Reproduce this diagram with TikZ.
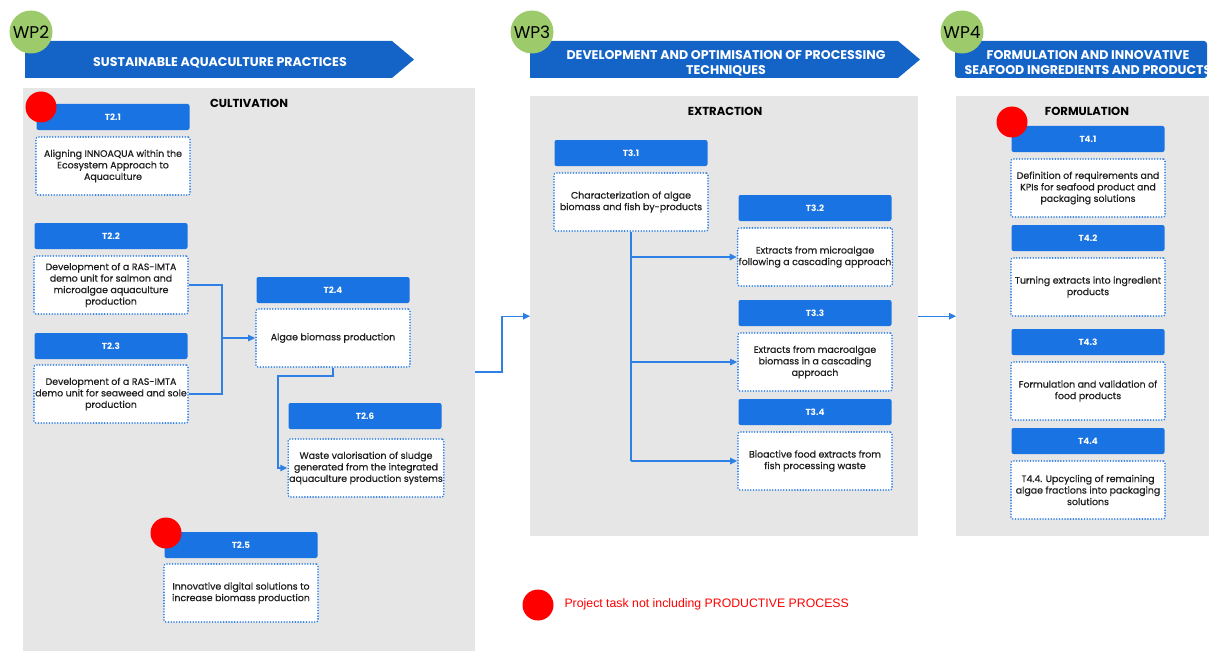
\documentclass[tikz,border=0pt]{standalone}
\usepackage{fontspec}
\setmainfont{Poppins}
\newfontfamily\bodyfont[FakeBold=0.6]{Poppins}
\newfontfamily\legendfont{Liberation Sans}
\usetikzlibrary{arrows.meta}
\definecolor{bannerblue}{HTML}{1464C8}
\definecolor{hdrblue}{HTML}{1A73E2}
\definecolor{dotblue}{HTML}{2A7CE6}
\definecolor{linkblue}{HTML}{2F80E4}
\definecolor{panelgray}{HTML}{E6E6E6}
\definecolor{wpgreen}{HTML}{9DCB6B}
\definecolor{flagred}{HTML}{FF0000}
\definecolor{bodytext}{HTML}{1E1E1E}
\begin{document}
\begin{tikzpicture}[x=1pt,y=-1pt,
  panel/.style={fill=panelgray,inner sep=0pt,anchor=north west},
  paneltitle/.style={font=\bfseries\fontsize{11.6}{13}\selectfont,text=black},
  banner/.style={fill=bannerblue},
  bannertext/.style={text=white,align=center,font=\bfseries\fontsize{12.6}{15}\selectfont},
  wp/.style={circle,fill=wpgreen,minimum size=43pt,inner sep=0pt,font=\fontsize{17}{17}\selectfont,text=black},
  hdr/.style={fill=hdrblue,rounded corners=2pt,minimum width=153pt,minimum height=26pt,inner sep=0pt,
    text=white,font=\bfseries\fontsize{8.8}{10}\selectfont},
  body/.style={draw=dotblue,line width=1.8pt,dash pattern=on 0.01pt off 2.75pt,line cap=round,
    fill=white,rounded corners=2pt,minimum width=154pt,minimum height=58pt,inner sep=1pt,
    align=center,text=bodytext,font=\bodyfont\fontsize{9.4}{11.5}\selectfont},
  flag/.style={circle,fill=flagred,minimum size=31pt,inner sep=0pt},
  conn/.style={draw=linkblue,line width=1.3pt},
  tip/.style={-{Triangle[length=7pt,width=6.5pt]}}
]
\useasboundingbox (0,0) rectangle (1209,650);
\clip (0,0) rectangle (1209,650);

% ---------- work package panels ----------
\node[panel,minimum width=452pt,minimum height=575pt] (p2) at (23,88) {};
\node[panel,minimum width=388pt,minimum height=440pt] (p3) at (530,96) {};
\node[panel,minimum width=270pt,minimum height=440pt] (p4) at (956,96) {};

\node[paneltitle] (c2) at (249,103) {CULTIVATION};
\node[paneltitle] (c3) at (725,111) {EXTRACTION};
\node[paneltitle] (c4) at (1087,111) {FORMULATION};

% ---------- banners ----------
\fill[banner] (25,41) -- (392,41) -- (414,59.5) -- (392,78) -- (25,78) -- cycle;
\fill[banner] (530,41) -- (898,41) -- (920,59.5) -- (898,78) -- (530,78) -- cycle;
\fill[banner,rounded corners=3pt] (955,41) -- (1207,41) -- (1207,78) -- (955,78) -- cycle;

\node[bannertext] (b2) at (220,63) {SUSTAINABLE AQUACULTURE PRACTICES};
\node[bannertext] (b3) at (726,63) {DEVELOPMENT AND OPTIMISATION OF PROCESSING\\TECHNIQUES};
\node[bannertext] (b4) at (1088,63) {FORMULATION AND INNOVATIVE\\SEAFOOD INGREDIENTS AND PRODUCTS};

\node[wp] (wp2) at (31,32) {WP2};
\node[wp] (wp3) at (532,32) {WP3};
\node[wp] (wp4) at (962,32) {WP4};

% ---------- WP2 tasks ----------
\node[hdr] (t21h) at (113,117) {T2.1};
\node[body] (t21b) at (113,166) {Aligning INNOAQUA within the\\Ecosystem Approach to\\Aquaculture};
\node[hdr] (t22h) at (111,236) {T2.2};
\node[body] (t22b) at (111,285) {Development of a RAS-IMTA\\demo unit for salmon and\\microalgae aquaculture\\production};
\node[hdr] (t23h) at (111,346) {T2.3};
\node[body] (t23b) at (111,394) {Development of a RAS-IMTA\\demo unit for seaweed and sole\\production};
\node[hdr] (t24h) at (333,290) {T2.4};
\node[body] (t24b) at (333,338) {Algae biomass production};
\node[hdr] (t26h) at (365,416) {T2.6};
\node[body] (t26b) at (366,468) {Waste valorisation of sludge\\generated from the integrated\\aquaculture production systems};
\node[hdr] (t25h) at (241,545) {T2.5};
\node[body] (t25b) at (241,593) {Innovative digital solutions to\\increase biomass production};

% ---------- WP3 tasks ----------
\node[hdr] (t31h) at (631,153) {T3.1};
\node[body] (t31b) at (631,202) {Characterization of algae\\biomass and fish by-products};
\node[hdr] (t32h) at (815,208) {T3.2};
\node[body] (t32b) at (815,257) {Extracts from microalgae\\following a cascading approach};
\node[hdr] (t33h) at (815,313) {T3.3};
\node[body] (t33b) at (815,362) {Extracts from macroalgae\\biomass in a cascading\\approach};
\node[hdr] (t34h) at (815,412) {T3.4};
\node[body] (t34b) at (815,461) {Bioactive food extracts from\\fish processing waste};

% ---------- WP4 tasks ----------
\node[hdr] (t41h) at (1088,139) {T4.1};
\node[body] (t41b) at (1088,188) {Definition of requirements and\\KPIs for seafood product and\\packaging solutions};
\node[hdr] (t42h) at (1088,238) {T4.2};
\node[body] (t42b) at (1088,287) {Turning extracts into ingredient\\products};
\node[hdr] (t43h) at (1088,342) {T4.3};
\node[body] (t43b) at (1088,391) {Formulation and validation of\\food products};
\node[hdr] (t44h) at (1088,441) {T4.4};
\node[body] (t44b) at (1088,490) {T4.4. Upcycling of remaining\\algae fractions into packaging\\solutions};

% ---------- tasks without a productive process ----------
\node[flag] (f21) at (41,107) {};
\node[flag] (f25) at (166,533) {};
\node[flag] (f41) at (1012,122) {};

% ---------- connectors inside WP2 ----------
\coordinate (j24) at (222,338);
\draw[conn] (t22b.east) -- (t22b.east -| j24) -- (j24);
\draw[conn] (t23b.east) -- (t23b.east -| j24) -- (j24);
\draw[conn,tip] (j24) -- (t24b.west);
\coordinate (k1) at (333,376);
\coordinate (k2) at (278,376);
\draw[conn,tip] (t24b.south) -- (k1) -- (k2) -- (k2 |- t26b.west) -- (t26b.west);

% ---------- connectors inside WP3 ----------
\draw[conn] (t31b.south) -- (t31b.south |- t34b.west);
\draw[conn,tip] (t31b.south |- t32b.west) -- (t32b.west);
\draw[conn,tip] (t31b.south |- t33b.west) -- (t33b.west);
\draw[conn,tip] (t31b.south |- t34b.west) -- (t34b.west);

% ---------- links between work packages ----------
\coordinate (o2) at (475,372);
\coordinate (m2) at (502,372);
\draw[conn,tip] (o2) -- (m2) -- (m2 |- p3.west) -- (p3.west);
\draw[conn,tip] (p3.west -| 918,0) -- (p4.west);

% ---------- legend ----------
\node[flag] (legdot) at (538,605) {};
\node[anchor=west,text=flagred,font=\legendfont\fontsize{12.3}{14}\selectfont] (legtxt) at (561,604) {Project task not including PRODUCTIVE PROCESS};
\end{tikzpicture}
\end{document}
